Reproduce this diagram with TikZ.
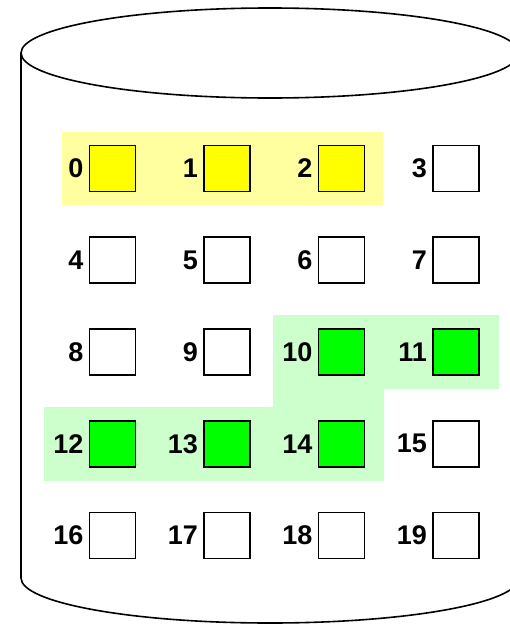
\documentclass[tikz,border=0pt]{standalone}
\usepackage{fontspec}
\setmainfont{Liberation Sans}
\usetikzlibrary{positioning}
\definecolor{PaleYellow}{RGB}{255,255,160}
\definecolor{PaleGreen}{RGB}{204,255,204}
\definecolor{BlockYellow}{RGB}{255,255,0}
\definecolor{BlockGreen}{RGB}{0,255,0}

\begin{document}
\begin{tikzpicture}[
    x=1pt, y=-1pt,
    font=\bfseries\fontsize{27}{27}\selectfont,
    block/.style={
      draw,
      line width=1.6pt,
      minimum size=46pt,
      inner sep=0pt,
    },
    num/.style={inner sep=0pt},
  ]
    \useasboundingbox (0,0) rectangle (510,624);
    \clip (0,0) rectangle (510,624);

    % disk
    \draw[line width=1.6pt] (21,53) -- (21,578) arc[start angle=180, end angle=0, x radius=249, y radius=45];
    \draw[line width=1.6pt] (270,53) ellipse[x radius=249, y radius=45];

    % highlighted runs
    \fill[PaleYellow] (62,132) rectangle (383,205);
    \fill[PaleGreen] (273,315) -- (499,315) -- (499,389) -- (384,389)
      -- (384,481) -- (44,481) -- (44,407) -- (273,407) -- cycle;

    % blocks
    \foreach \i in {0,...,19} {
      \pgfmathtruncatemacro{\col}{mod(\i,4)}
      \pgfmathtruncatemacro{\row}{div(\i,4)}
      \def\blockfill{white}
      \ifnum\i<3 \def\blockfill{BlockYellow}\fi
      \ifnum\i>9 \ifnum\i<15 \def\blockfill{BlockGreen}\fi\fi
      \node[block, fill=\blockfill] (b\i) at (112.5+114.5*\col, 168.5+91.75*\row) {};
      \node[num, left=5pt of b\i] (n\i) {\i};
    }
\end{tikzpicture}
\end{document}
